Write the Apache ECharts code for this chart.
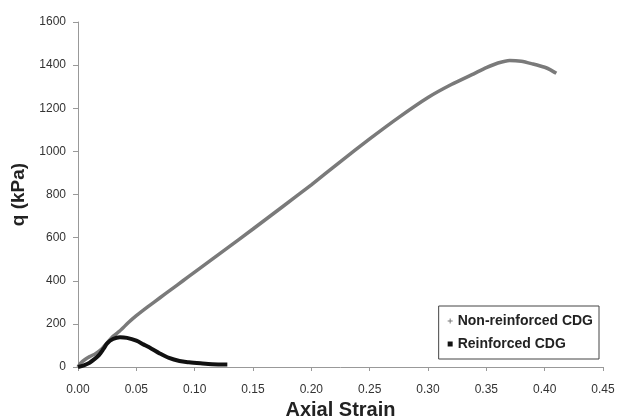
<!DOCTYPE html>
<html><head><meta charset="utf-8">
<script src="https://cdn.jsdelivr.net/npm/echarts@6/dist/echarts.min.js"></script>
<style>html,body{margin:0;padding:0;background:#fff}#c{width:617px;height:419px}</style>
</head><body><div id="c"></div>
<script>
var seriesNames = ['Non-reinforced CDG', 'Reinforced CDG'];
var nonReinforced = [
  [0.000, 0], [0.002, 17], [0.006, 35], [0.010, 48], [0.015, 62], [0.020, 82], [0.025, 112],
  [0.030, 142], [0.036, 168], [0.043, 205], [0.050, 238], [0.060, 280], [0.070, 320],
  [0.080, 360], [0.090, 400], [0.100, 440], [0.125, 540], [0.150, 640],
  [0.175, 742], [0.200, 845], [0.225, 953], [0.250, 1058], [0.275, 1158],
  [0.300, 1250], [0.320, 1310], [0.340, 1362], [0.350, 1388], [0.360, 1410], [0.370, 1422],
  [0.380, 1418], [0.390, 1405], [0.400, 1390], [0.405, 1378], [0.410, 1362]
];
var reinforced = [
  [0.000, 0], [0.005, 8], [0.010, 20], [0.013, 32], [0.018, 55], [0.022, 85], [0.025, 110],
  [0.030, 130], [0.036, 138], [0.042, 135], [0.050, 122], [0.056, 105], [0.063, 85],
  [0.070, 63], [0.078, 42], [0.087, 28], [0.095, 22], [0.105, 17], [0.115, 13], [0.128, 12]
];
var xTicks = [0, 0.45, 0.05];
var yTicks = [0, 1600, 200];

var chart = echarts.init(document.getElementById('c'));
var font = 'Liberation Sans';
chart.setOption({
  backgroundColor: '#fff',
  animation: false,
  grid: { left: 78, right: 14, top: 22, bottom: 52, containLabel: false, outerBoundsMode: 'none' },
  legend: {
    right: 18, top: 306,
    orient: 'vertical', itemGap: 9,
    padding: [8, 6, 8, 9],
    borderColor: '#444', borderWidth: 1,
    itemWidth: 5, itemHeight: 5,
    textStyle: { fontFamily: font, fontWeight: 'bold', fontSize: 14, color: '#222' },
    data: [
      { name: seriesNames[0], icon: 'path://M4,0H6V4H10V6H6V10H4V6H0V4H4Z' },
      { name: seriesNames[1], icon: 'rect' }
    ]
  },
  xAxis: {
    type: 'value', min: xTicks[0], max: xTicks[1], interval: xTicks[2],
    name: 'Axial Strain', nameLocation: 'middle', nameGap: 33,
    nameTextStyle: { fontFamily: font, fontWeight: 'bold', fontSize: 20, color: '#222' },
    axisLine: { lineStyle: { color: '#999', width: 1 } },
    axisTick: { show: true, length: 4, lineStyle: { color: '#999' } },
    axisLabel: { fontFamily: font, fontSize: 12, color: '#333', margin: 17,
      formatter: function (v) { return v.toFixed(2); } },
    splitLine: { show: false }
  },
  yAxis: {
    type: 'value', min: yTicks[0], max: yTicks[1], interval: yTicks[2],
    name: 'q (kPa)', nameLocation: 'middle', nameGap: 47, nameRotate: 90,
    nameTextStyle: { fontFamily: font, fontWeight: 'bold', fontSize: 19, color: '#222' },
    axisLine: { show: true, lineStyle: { color: '#999', width: 1 } },
    axisTick: { show: true, length: 5, lineStyle: { color: '#999' } },
    axisLabel: { fontFamily: font, fontSize: 12, color: '#333', margin: 12,
      formatter: function (v) { return String(v); } },
    splitLine: { show: false }
  },
  series: [
    { name: seriesNames[0], type: 'line', data: nonReinforced, smooth: 0.2, showSymbol: false,
      color: '#7a7a7a', lineStyle: { color: '#7a7a7a', width: 3.5 }, z: 2 },
    { name: seriesNames[1], type: 'line', data: reinforced, smooth: 0.3, showSymbol: false,
      color: '#111', lineStyle: { color: '#111', width: 4 }, z: 3 }
  ]
});
</script></body></html>
